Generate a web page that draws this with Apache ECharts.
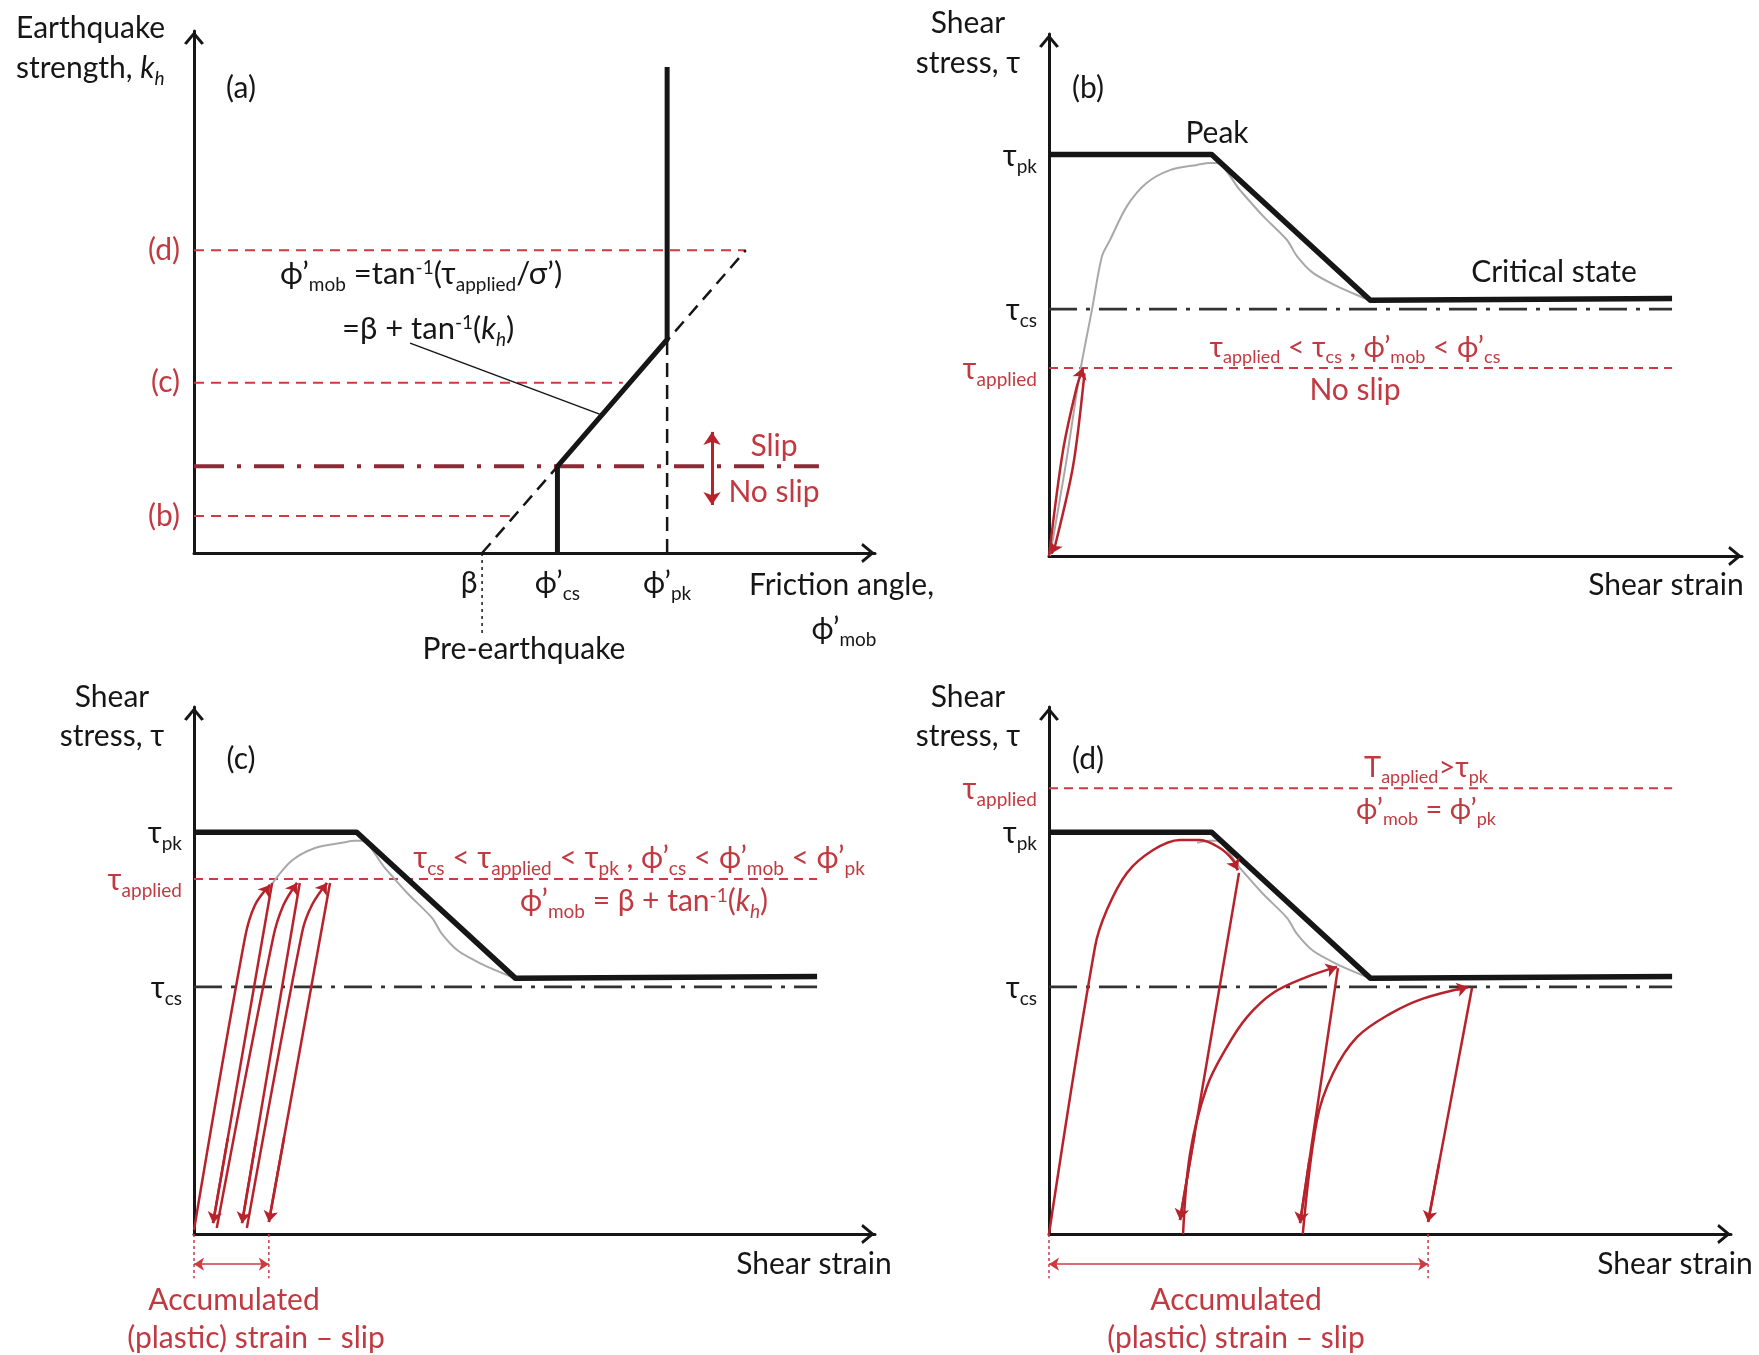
<!DOCTYPE html>
<html>
<head>
<meta charset="utf-8">
<script src="https://cdn.jsdelivr.net/npm/echarts@6/dist/echarts.min.js"></script>
<style>
  html, body { margin: 0; padding: 0; background: #ffffff; }
  #chart { width: 1759px; height: 1355px; }
</style>
</head>
<body>
<div id="chart"></div>
<script>
// ---------- Panel (a): mobilised friction angle vs earthquake strength ----------
const frictionTicks   = [26, 32.8, 42.7];          // β, ϕ'cs, ϕ'pk  (deg)
const khLevels        = [0.071, 0.326, 0.58];      // earthquakes (b), (c), (d)
const khLevelLabels   = ['(b)', '(c)', '(d)'];
const khLevelReach    = [28.5, 38.7, 49.8];        // where each dashed level stops (deg)
const khSlip          = 0.166;                     // slip threshold
const khSlipReach     = 56.4;
const mobilisedAngle  = [[32.8, 0], [32.8, 0.166], [42.7, 0.409], [42.7, 0.931]];
const frictionTrend   = [[26, 0], [49.8, 0.58]];
const peakDrop        = [[42.7, 0], [42.7, 0.409]];
const preQuakeMark    = [[26, 0], [26, -0.16]];
const formulaLeader   = [[19.5, 0.402], [36.6, 0.266]];
const slipArrow       = [[46.75, 0.232], [46.75, 0.092]];

// ---------- Panels (b)-(d): shear stress vs shear strain ----------
const tauPk      = 100;
const tauCs      = 61.5;
const tauApplied = [46.8, 88.4, 111];              // (b), (c), (d)
const lineReach  = 383;                            // strain where reference lines stop
const envelope   = [[0, 100], [100, 100], [197.5, 63.7], [383, 64.1]];
const backbone   = [[0.6, 0], [10, 22], [19, 45.6], [26.4, 61.3], [32.6, 74.7], [37.5, 78.7],
                    [48, 87.2], [60, 92.9], [74.4, 96.1], [91, 97.4], [99, 97.9], [103, 97.9],
                    [117.4, 91.1], [131.5, 84.7], [146.3, 78.7], [152.4, 74.7], [162.3, 70.5],
                    [177, 67.2], [191, 64.7], [197.5, 63.7]];

// (b) one elastic cycle
const bLoad   = [[0, 0], [8.5, 26], [17, 42], [20.9, 46.8]];
const bUnload = [[21.8, 45.5], [14.8, 22.4], [3.7, 2.5], [1.5, 0.6]];

// (c) three cycles with small plastic slip
const cLoad = [
  [[0, 1], [31.3, 73.7], [37.5, 81.9], [46.7, 86.9]],
  [[14, 1.5], [48.6, 73.7], [55, 81.9], [63.3, 87.4]],
  [[32.5, 1.5], [66.4, 75], [72.5, 81.9], [81.7, 87.4]]
];
const cUnload = [
  [[48, 87.4], [11.7, 2.7]],
  [[65, 87.4], [29.5, 2.7]],
  [[83.6, 87.4], [46, 3]]
];

// (d) three cycles beyond peak, softening towards critical state
const dLoad = [
  [[0, 0], [28.3, 71.5], [35.6, 80.7], [47.9, 89.9], [64, 95.6], [80.5, 98.1], [92.8, 98.1], [105, 96.1], [113, 93.1], [116, 90.6]],
  [[82.4, 0], [86.7, 20], [97, 36.6], [109.4, 46.6], [121.7, 54], [137.7, 60], [158.6, 64], [177, 66.5]],
  [[156, 0], [164.7, 28.4], [174.6, 40], [189.3, 49], [209.6, 54.8], [229.9, 58.6], [257.5, 61.5]]
];
const dUnload = [
  [[116.8, 89.9], [80.5, 3.5]],
  [[177.6, 66.2], [154.3, 2.7]],
  [[260, 61.3], [233, 3]]
];

// ---------- styling ----------
const FONT = 'Lato, "Liberation Sans", "DejaVu Sans", sans-serif';
const INK = '#161616';
const RED = '#b8222b';          // loading paths
const RED_DASH = '#cf3a42';     // applied-stress levels
const RED_TEXT = '#c23a41';
const DARK_RED = '#8e2a36';
const GREY = '#a8a8a8';
const CHEVRON = 'path://M0,12 L10,0 L20,12 L17.4,13.6 L10,4.6 L2.6,13.6 Z';
const TEXT_DROP = 6;            // glyph centring correction for the annotation texts
const SUB_LIFT = 5;             // raises subscripts towards the baseline

// zrender rich styles (graphic texts)
function richZr(size, color) {
  const sub = Math.round(size * 0.62);
  const lh = Math.round(size * 1.32);
  const base = { fontFamily: FONT, fill: color };
  const subStyle = { fontSize: sub, lineHeight: sub, verticalAlign: 'bottom', padding: [0, 0, SUB_LIFT, 0] };
  return {
    m:  Object.assign({}, base, { fontSize: size, lineHeight: lh, verticalAlign: 'top' }),
    i:  Object.assign({}, base, { fontSize: size, lineHeight: lh, verticalAlign: 'top', fontStyle: 'italic' }),
    s:  Object.assign({}, base, subStyle),
    is: Object.assign({}, base, subStyle, { fontStyle: 'italic' }),
    u:  Object.assign({}, base, { fontSize: sub, lineHeight: Math.round(size * 0.9), verticalAlign: 'top' })
  };
}
// echarts rich styles (axis labels)
function richAxis(size) {
  const sub = Math.round(size * 0.62);
  const lh = Math.round(size * 1.32);
  const mk = (c, fs, l, va) => ({ fontFamily: FONT, color: c, fontSize: fs, lineHeight: l, verticalAlign: va });
  const lift = o => Object.assign(o, { padding: [0, 0, SUB_LIFT, 0] });
  return {
    m: mk(INK, size, lh, 'top'), s: lift(mk(INK, sub, sub, 'bottom')),
    rm: mk(RED_TEXT, size, lh, 'top'), rs: lift(mk(RED_TEXT, sub, sub, 'bottom')),
    r: mk(RED_TEXT, size, lh, 'top'),
    b: Object.assign(mk(INK, size, lh, 'top'), { padding: [0, 26, 0, 0] })
  };
}

function txt(x, y, text, opt) {
  opt = opt || {};
  const size = opt.size || 30;
  const color = opt.color || INK;
  return {
    type: 'text', x: x, y: y + TEXT_DROP, silent: true, z: 50,
    style: { text: text, align: opt.align || 'center', verticalAlign: 'middle',
             fill: color, font: size + 'px ' + FONT, rich: richZr(size, color) }
  };
}

// ---------- grids & axes ----------
const grids = [
  { left: 194,  top: 31, width: 681, height: 522 },   // (a)
  { left: 1049, top: 34, width: 693, height: 522 },   // (b)
  { left: 194,  top: 707, width: 681, height: 527 },  // (c)
  { left: 1049, top: 707, width: 682, height: 527 }   // (d)
];
const xMax = [61.46, 426, 418.6, 419.2];
const yMax = [1.0, 130, 131.2, 131.2];

const axisLineStyle = {
  onZero: false,
  lineStyle: { color: INK, width: 3 },
  symbol: ['none', CHEVRON], symbolSize: [20, 14], symbolOffset: [0, -7]
};

function near(a, b) { return Math.abs(a - b) < 1e-6; }

const xAxes = grids.map((g, i) => ({
  gridIndex: i, type: 'value', min: 0, max: xMax[i],
  axisLine: axisLineStyle, axisTick: { show: false }, splitLine: { show: false },
  axisLabel: i === 0 ? {
    customValues: frictionTicks, margin: 15, rich: richAxis(30),
    formatter: v => near(v, frictionTicks[0]) ? '{b|β}'
                  : near(v, frictionTicks[1]) ? '{m|ϕ’}{s|cs}' : '{m|ϕ’}{s|pk}'
  } : { show: false }
}));

const yAxes = grids.map((g, i) => {
  const base = {
    gridIndex: i, type: 'value', min: 0, max: yMax[i],
    axisLine: axisLineStyle, axisTick: { show: false }, splitLine: { show: false }
  };
  if (i === 0) {
    base.axisLabel = {
      customValues: khLevels, margin: 14, padding: [10, 0, 0, 0], rich: richAxis(30),
      formatter: v => '{r|' + khLevelLabels[khLevels.findIndex(k => near(k, v))] + '}'
    };
  } else {
    const applied = tauApplied[i - 1];
    base.axisLabel = {
      customValues: [tauCs, applied, tauPk], margin: 12, padding: [13, 0, 0, 0], rich: richAxis(30),
      formatter: v => near(v, tauPk) ? '{m|τ}{s|pk}'
                    : near(v, tauCs) ? '{m|τ}{s|cs}' : '{rm|τ}{rs|applied}'
    };
  }
  return base;
});

// ---------- series helpers ----------
const series = [];
function poly(g, data, ls, opt) {
  opt = opt || {};
  series.push({
    type: 'line', xAxisIndex: g, yAxisIndex: g, data: data,
    symbol: 'none', showSymbol: false, smooth: opt.smooth || false,
    clip: false, silent: true, animation: false, z: opt.z || 2,
    lineStyle: Object.assign({ cap: 'butt', join: 'round' }, ls)
  });
}
function arrows(g, segs, color, width, size, both, z) {
  series.push({
    type: 'lines', coordinateSystem: 'cartesian2d', xAxisIndex: g, yAxisIndex: g,
    polyline: false, clip: false, silent: true, animation: false, z: z || 4,
    symbol: both ? ['arrow', 'arrow'] : ['none', 'arrow'], symbolSize: size,
    lineStyle: { color: color, width: width, opacity: 1 },
    data: segs.map(s => ({ coords: s }))
  });
}
// short final piece of a path, used to orient an arrow head at its end
function tail(pts) {
  const n = pts.length, tip = pts[n - 1], prev = pts[n - 2];
  return [[tip[0] + (prev[0] - tip[0]) * 0.25, tip[1] + (prev[1] - tip[1]) * 0.25], tip];
}
const hline = (y, x0, x1) => [[x0, y], [x1, y]];

// ---------- panel (a) ----------
khLevels.forEach((k, j) => poly(0, hline(k, 0, khLevelReach[j]), { color: RED_DASH, width: 2, type: [10, 7] }));
poly(0, hline(khSlip, 0, khSlipReach), { color: DARK_RED, width: 4, type: [30, 13, 4, 13] }, { z: 3 });
poly(0, frictionTrend, { color: INK, width: 2.5, type: [13, 8] });
poly(0, peakDrop, { color: INK, width: 2.5, type: [14, 8] });
poly(0, preQuakeMark, { color: INK, width: 1.5, type: [3, 4] });
poly(0, formulaLeader, { color: INK, width: 1.5 });
poly(0, mobilisedAngle, { color: INK, width: 5 }, { z: 5 });
arrows(0, [slipArrow], RED, 3, 13, true);

// ---------- panels (b)-(d): common reference lines ----------
[1, 2, 3].forEach(g => {
  poly(g, hline(tauApplied[g - 1], 0, lineReach), { color: RED_DASH, width: 2, type: [9, 6] }, { z: 1 });
  poly(g, hline(tauCs, 0, lineReach), { color: '#333333', width: 2.8, type: [28, 9, 4, 9] }, { z: 1 });
});
poly(1, backbone, { color: GREY, width: 2 }, { smooth: 0.3, z: 2 });
poly(2, backbone.slice(6), { color: GREY, width: 2 }, { smooth: 0.3, z: 2 });
poly(3, backbone.slice(9), { color: GREY, width: 2 }, { smooth: 0.3, z: 2 });
[1, 2, 3].forEach(g => poly(g, envelope, { color: INK, width: 5.5 }, { z: 3 }));

// (b)
poly(1, bLoad, { color: RED, width: 2.5 }, { smooth: 0.3, z: 6 });
poly(1, bUnload, { color: RED, width: 2.5 }, { smooth: 0.3, z: 6 });
arrows(1, [tail(bLoad), tail(bUnload)], RED, 2.5, 11, false, 7);

// (c)
cLoad.forEach(p => poly(2, p, { color: RED, width: 2.5 }, { smooth: 0.35, z: 6 }));
cUnload.forEach(p => poly(2, p, { color: RED, width: 2.5 }, { z: 6 }));
arrows(2, cLoad.map(tail).concat(cUnload.map(tail)), RED, 2.5, 11, false, 7);

// (d)
dLoad.forEach(p => poly(3, p, { color: RED, width: 2.5 }, { smooth: 0.35, z: 6 }));
dUnload.forEach(p => poly(3, p, { color: RED, width: 2.5 }, { z: 6 }));
arrows(3, dLoad.map(tail).concat(dUnload.map(tail)), RED, 2.5, 11, false, 7);

// accumulated plastic strain markers below the strain axis
[[2, cUnload], [3, dUnload]].forEach(([g, un]) => {
  const slip = un[un.length - 1][1][0];
  poly(g, [[0, 0], [0, -11]], { color: RED_DASH, width: 1.5, type: [3, 3] });
  poly(g, [[slip, 0], [slip, -11]], { color: RED_DASH, width: 1.5, type: [3, 3] });
  arrows(g, [[[0, -7.5], [slip, -7.5]]], RED_DASH, 1.5, 10, true, 4);
});

// ---------- texts ----------
const graphics = [
  // (a)
  txt(16, 27, '{m|Earthquake}', { align: 'left' }),
  txt(16, 67, '{m|strength, }{i|k}{is|h}', { align: 'left' }),
  txt(241, 87, '{m|(a)}'),
  txt(280, 273, '{m|ϕ’}{s|mob}{m| =tan}{u|-1}{m|(τ}{s|applied}{m|/σ’)}', { align: 'left', size: 31 }),
  txt(342, 328, '{m|=β + tan}{u|-1}{m|(}{i|k}{is|h}{m|)}', { align: 'left', size: 31 }),
  txt(774, 445, '{m|Slip}', { color: RED_TEXT }),
  txt(774, 491, '{m|No slip}', { color: RED_TEXT }),
  txt(749, 584, '{m|Friction angle,}', { align: 'left' }),
  txt(844, 628, '{m|ϕ’}{s|mob}'),
  txt(524, 648, '{m|Pre-earthquake}'),
  // (b)
  txt(968, 22, '{m|Shear}'),
  txt(968, 62, '{m|stress, τ}'),
  txt(1088, 87, '{m|(b)}'),
  txt(1217, 132, '{m|Peak}'),
  txt(1554, 271, '{m|Critical state}'),
  txt(1355, 346, '{m|τ}{s|applied}{m| < τ}{s|cs}{m| , ϕ’}{s|mob}{m| < ϕ’}{s|cs}', { color: RED_TEXT, size: 29 }),
  txt(1355, 389, '{m|No slip}', { color: RED_TEXT }),
  txt(1666, 584, '{m|Shear strain}'),
  // (c)
  txt(112, 696, '{m|Shear}'),
  txt(112, 735, '{m|stress, τ}'),
  txt(241, 758, '{m|(c)}'),
  txt(639, 857, '{m|τ}{s|cs}{m| < τ}{s|applied}{m| < τ}{s|pk}{m| , ϕ’}{s|cs}{m| < ϕ’}{s|mob}{m| < ϕ’}{s|pk}', { color: RED_TEXT, size: 30 }),
  txt(644, 900, '{m|ϕ’}{s|mob}{m| = β + tan}{u|-1}{m|(}{i|k}{is|h}{m|)}', { color: RED_TEXT, size: 30 }),
  txt(814, 1263, '{m|Shear strain}'),
  txt(234, 1299, '{m|Accumulated}', { color: RED_TEXT }),
  txt(256, 1337, '{m|(plastic) strain – slip}', { color: RED_TEXT }),
  // (d)
  txt(968, 696, '{m|Shear}'),
  txt(968, 735, '{m|stress, τ}'),
  txt(1088, 758, '{m|(d)}'),
  txt(1426, 766, '{m|T}{s|applied}{m|>τ}{s|pk}', { color: RED_TEXT, size: 29 }),
  txt(1426, 808, '{m|ϕ’}{s|mob}{m| = ϕ’}{s|pk}', { color: RED_TEXT, size: 29 }),
  txt(1675, 1263, '{m|Shear strain}'),
  txt(1236, 1299, '{m|Accumulated}', { color: RED_TEXT }),
  txt(1236, 1337, '{m|(plastic) strain – slip}', { color: RED_TEXT })
];

const chart = echarts.init(document.getElementById('chart'), null, { renderer: 'canvas' });
chart.setOption({
  backgroundColor: '#ffffff',
  animation: false,
  grid: grids,
  xAxis: xAxes,
  yAxis: yAxes,
  series: series,
  graphic: graphics
});
</script>
</body>
</html>
